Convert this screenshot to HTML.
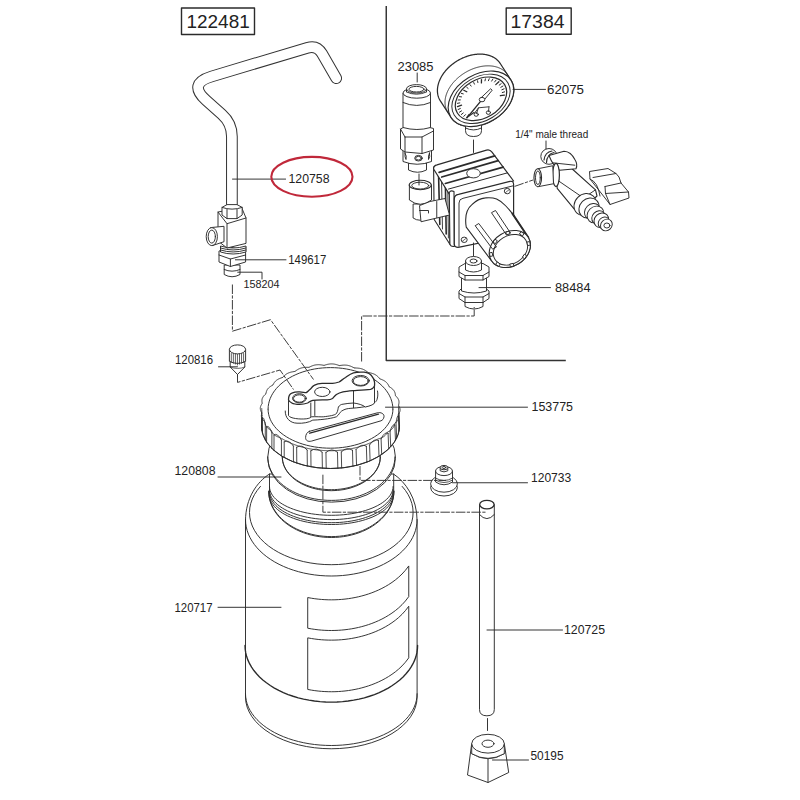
<!DOCTYPE html>
<html><head><meta charset="utf-8"><style>
html,body{margin:0;padding:0;background:#fff;width:800px;height:800px;overflow:hidden}
svg{display:block}
.s{fill:none;stroke:#2b2b2b;stroke-width:0.95;stroke-linejoin:round;stroke-linecap:round}
.w{fill:#fff;stroke:#2b2b2b;stroke-width:0.95;stroke-linejoin:round}
.b{fill:#fff;stroke:#2b2b2b;stroke-width:1.5;stroke-linejoin:round}
.d{fill:none;stroke:#333;stroke-width:0.95;stroke-dasharray:9.5 1.4 3.2 1.4}
.red{fill:none;stroke:#c0283a;stroke-width:2.1}
.t{font-family:"Liberation Sans",sans-serif;fill:#222}
</style></head><body>
<svg width="800" height="800" viewBox="0 0 800 800">
<rect width="800" height="800" fill="#fff"/>
<path d="M245.5,521 C245.5,498 257,482 269.5,474 L393.5,474 C405.5,482 417.1,498 417.1,521 V697 A85.8 51.75 0 0 1 245.5,697 Z" class="w" />
<polyline points="402.14,486.40 405.44,490.44 408.17,494.65 410.31,498.99 411.86,503.44 412.79,507.95 413.10,512.50 412.79,517.05 411.86,521.56 410.31,526.01 408.17,530.35 405.44,534.56 402.14,538.60 398.31,542.44 393.96,546.05 389.14,549.41 383.88,552.49 378.22,555.26 372.20,557.71 365.87,559.81 359.28,561.55 352.47,562.92 345.50,563.91 338.43,564.50 331.30,564.70 324.17,564.50 317.10,563.91 310.13,562.92 303.32,561.55 296.73,559.81 290.40,557.71 284.38,555.26 278.72,552.49 273.46,549.41 268.64,546.05 264.29,542.44 260.46,538.60 257.16,534.56 254.43,530.35 252.29,526.01 250.74,521.56 249.81,517.05 249.50,512.50 249.81,507.95 250.74,503.44 252.29,498.99 254.43,494.65 257.16,490.44 260.46,486.40" class="s" />
<polyline points="417.10,519.50 416.92,523.20 416.37,526.87 415.45,530.52 414.18,534.12 412.55,537.66 410.57,541.12 408.25,544.49 405.60,547.75 402.64,550.89 399.37,553.90 395.81,556.75 391.97,559.45 387.87,561.98 383.53,564.32 378.97,566.48 374.20,568.43 369.25,570.17 364.13,571.70 358.88,573.00 353.51,574.07 348.04,574.91 342.50,575.52 336.91,575.88 331.30,576.00 325.69,575.88 320.10,575.52 314.56,574.91 309.09,574.07 303.72,573.00 298.47,571.70 293.35,570.17 288.40,568.43 283.63,566.48 279.07,564.32 274.73,561.98 270.63,559.45 266.79,556.75 263.23,553.90 259.96,550.89 257.00,547.75 254.35,544.49 252.03,541.12 250.05,537.66 248.42,534.12 247.15,530.52 246.23,526.87 245.68,523.20 245.50,519.50" class="s" />
<polyline points="393.90,491.00 393.77,493.98 393.36,496.95 392.70,499.90 391.77,502.80 390.58,505.66 389.13,508.45 387.44,511.17 385.51,513.80 383.35,516.33 380.96,518.76 378.37,521.07 375.56,523.24 372.58,525.28 369.41,527.18 366.08,528.92 362.60,530.49 358.99,531.90 355.26,533.13 351.42,534.18 347.50,535.05 343.51,535.72 339.47,536.21 335.39,536.50 331.30,536.60 327.21,536.50 323.13,536.21 319.09,535.72 315.10,535.05 311.18,534.18 307.34,533.13 303.61,531.90 300.00,530.49 296.52,528.92 293.19,527.18 290.02,525.28 287.04,523.24 284.23,521.07 281.64,518.76 279.25,516.33 277.09,513.80 275.16,511.17 273.47,508.45 272.02,505.66 270.83,502.80 269.90,499.90 269.24,496.95 268.83,493.98 268.70,491.00" class="s" />
<polyline points="393.90,491.50 393.77,494.51 393.36,497.50 392.70,500.47 391.77,503.41 390.58,506.29 389.13,509.10 387.44,511.85 385.51,514.50 383.35,517.06 380.96,519.50 378.37,521.83 375.56,524.03 372.58,526.08 369.41,527.99 366.08,529.75 362.60,531.34 358.99,532.76 355.26,534.00 351.42,535.06 347.50,535.93 343.51,536.62 339.47,537.11 335.39,537.40 331.30,537.50 327.21,537.40 323.13,537.11 319.09,536.62 315.10,535.93 311.18,535.06 307.34,534.00 303.61,532.76 300.00,531.34 296.52,529.75 293.19,527.99 290.02,526.08 287.04,524.03 284.23,521.83 281.64,519.50 279.25,517.06 277.09,514.50 275.16,511.85 273.47,509.10 272.02,506.29 270.83,503.41 269.90,500.47 269.24,497.50 268.83,494.51 268.70,491.50" class="s" />
<polyline points="393.10,486.50 392.97,488.38 392.57,490.26 391.91,492.12 390.99,493.95 389.82,495.76 388.40,497.52 386.73,499.24 384.82,500.90 382.68,502.50 380.33,504.03 377.76,505.49 375.00,506.86 372.05,508.15 368.92,509.35 365.63,510.45 362.20,511.44 358.63,512.33 354.95,513.11 351.16,513.77 347.30,514.32 343.36,514.75 339.37,515.05 335.34,515.24 331.30,515.30 327.26,515.24 323.23,515.05 319.24,514.75 315.30,514.32 311.44,513.77 307.65,513.11 303.97,512.33 300.40,511.44 296.97,510.45 293.68,509.35 290.55,508.15 287.60,506.86 284.84,505.49 282.27,504.03 279.92,502.50 277.78,500.90 275.87,499.24 274.20,497.52 272.78,495.76 271.61,493.95 270.69,492.12 270.03,490.26 269.63,488.38 269.50,486.50" class="s" />
<polyline points="393.10,490.00 392.97,491.94 392.57,493.86 391.91,495.77 390.99,497.66 389.82,499.51 388.40,501.33 386.73,503.09 384.82,504.80 382.68,506.44 380.33,508.02 377.76,509.52 375.00,510.93 372.05,512.25 368.92,513.48 365.63,514.61 362.20,515.63 358.63,516.55 354.95,517.35 351.16,518.03 347.30,518.59 343.36,519.03 339.37,519.35 335.34,519.54 331.30,519.60 327.26,519.54 323.23,519.35 319.24,519.03 315.30,518.59 311.44,518.03 307.65,517.35 303.97,516.55 300.40,515.63 296.97,514.61 293.68,513.48 290.55,512.25 287.60,510.93 284.84,509.52 282.27,508.02 279.92,506.44 277.78,504.80 275.87,503.09 274.20,501.33 272.78,499.51 271.61,497.66 270.69,495.77 270.03,493.86 269.63,491.94 269.50,490.00" class="s" />
<polyline points="393.10,492.00 392.97,494.01 392.57,496.01 391.91,497.99 390.99,499.95 389.82,501.87 388.40,503.75 386.73,505.58 384.82,507.35 382.68,509.06 380.33,510.69 377.76,512.24 375.00,513.71 372.05,515.08 368.92,516.36 365.63,517.53 362.20,518.59 358.63,519.53 354.95,520.36 351.16,521.07 347.30,521.65 343.36,522.11 339.37,522.44 335.34,522.63 331.30,522.70 327.26,522.63 323.23,522.44 319.24,522.11 315.30,521.65 311.44,521.07 307.65,520.36 303.97,519.53 300.40,518.59 296.97,517.53 293.68,516.36 290.55,515.08 287.60,513.71 284.84,512.24 282.27,510.69 279.92,509.06 277.78,507.35 275.87,505.58 274.20,503.75 272.78,501.87 271.61,499.95 270.69,497.99 270.03,496.01 269.63,494.01 269.50,492.00" class="s" />
<polyline points="393.10,495.00 392.97,496.93 392.57,498.85 391.91,500.76 390.99,502.64 389.82,504.48 388.40,506.29 386.73,508.05 384.82,509.75 382.68,511.39 380.33,512.96 377.76,514.45 375.00,515.86 372.05,517.18 368.92,518.40 365.63,519.53 362.20,520.55 358.63,521.46 354.95,522.25 351.16,522.93 347.30,523.49 343.36,523.93 339.37,524.25 335.34,524.44 331.30,524.50 327.26,524.44 323.23,524.25 319.24,523.93 315.30,523.49 311.44,522.93 307.65,522.25 303.97,521.46 300.40,520.55 296.97,519.53 293.68,518.40 290.55,517.18 287.60,515.86 284.84,514.45 282.27,512.96 279.92,511.39 277.78,509.75 275.87,508.05 274.20,506.29 272.78,504.48 271.61,502.64 270.69,500.76 270.03,498.85 269.63,496.93 269.50,495.00" class="s" />
<line x1="269.50" y1="474.00" x2="269.50" y2="492.00" class="s" />
<line x1="393.70" y1="474.00" x2="393.70" y2="492.00" class="s" />
<polyline points="417.60,645.50 417.42,649.20 416.86,652.89 415.94,656.54 414.66,660.15 413.02,663.69 411.03,667.16 408.70,670.53 406.04,673.80 403.06,676.95 399.77,679.96 396.18,682.82 392.32,685.52 388.20,688.05 383.84,690.40 379.25,692.56 374.45,694.52 369.47,696.26 364.33,697.79 359.04,699.10 353.64,700.17 348.14,701.01 342.56,701.62 336.94,701.98 331.30,702.10 325.66,701.98 320.04,701.62 314.46,701.01 308.96,700.17 303.56,699.10 298.27,697.79 293.13,696.26 288.15,694.52 283.35,692.56 278.76,690.40 274.40,688.05 270.28,685.52 266.42,682.82 262.83,679.96 259.54,676.95 256.56,673.80 253.90,670.53 251.57,667.16 249.58,663.69 247.94,660.15 246.66,656.54 245.74,652.89 245.18,649.20 245.00,645.50" class="s" style="stroke-width:1.35"/>
<polyline points="417.10,693.75 416.92,697.13 416.37,700.50 415.45,703.85 414.18,707.14 412.55,710.38 410.57,713.55 408.25,716.64 405.60,719.62 402.64,722.50 399.37,725.25 395.81,727.87 391.97,730.34 387.87,732.66 383.53,734.81 378.97,736.78 374.20,738.57 369.25,740.16 364.13,741.56 358.88,742.75 353.51,743.74 348.04,744.51 342.50,745.06 336.91,745.39 331.30,745.50 325.69,745.39 320.10,745.06 314.56,744.51 309.09,743.74 303.72,742.75 298.47,741.56 293.35,740.16 288.40,738.57 283.63,736.78 279.07,734.81 274.73,732.66 270.63,730.34 266.79,727.87 263.23,725.25 259.96,722.50 257.00,719.62 254.35,716.64 252.03,713.55 250.05,710.38 248.42,707.14 247.15,703.85 246.23,700.50 245.68,697.13 245.50,693.75" class="s" />
<path d="M308.10,597.62 L311.46,598.23 L314.81,598.73 L318.17,599.14 L321.52,599.45 L324.88,599.67 L328.23,599.80 L331.59,599.84 L334.94,599.79 L338.30,599.64 L341.65,599.41 L345.00,599.08 L348.36,598.65 L351.72,598.13 L355.07,597.51 L358.43,596.79 L361.78,595.96 L365.13,595.02 L368.49,593.96 L371.85,592.78 L375.20,591.46 L378.56,590.00 L381.91,588.39 L385.26,586.60 L388.62,584.61 L391.98,582.41 L395.33,579.95 L398.69,577.17 L402.04,574.01 L405.39,570.34 L408.75,565.94 L408.75,596.60 L405.39,601.00 L402.04,604.67 L398.69,607.83 L395.33,610.61 L391.98,613.07 L388.62,615.27 L385.26,617.26 L381.91,619.05 L378.56,620.66 L375.20,622.12 L371.85,623.44 L368.49,624.62 L365.13,625.68 L361.78,626.62 L358.43,627.45 L355.07,628.17 L351.72,628.79 L348.36,629.31 L345.00,629.74 L341.65,630.07 L338.30,630.30 L334.94,630.45 L331.59,630.50 L328.23,630.46 L324.88,630.33 L321.52,630.11 L318.17,629.80 L314.81,629.39 L311.46,628.89 L308.10,628.28 Z" class="s" />
<path d="M308.10,637.92 L311.46,638.53 L314.81,639.03 L318.17,639.44 L321.52,639.75 L324.88,639.97 L328.23,640.10 L331.59,640.14 L334.94,640.09 L338.30,639.94 L341.65,639.71 L345.00,639.38 L348.36,638.95 L351.72,638.43 L355.07,637.81 L358.43,637.09 L361.78,636.26 L365.13,635.32 L368.49,634.26 L371.85,633.08 L375.20,631.76 L378.56,630.30 L381.91,628.69 L385.26,626.90 L388.62,624.91 L391.98,622.71 L395.33,620.25 L398.69,617.47 L402.04,614.31 L405.39,610.64 L408.75,606.24 L408.75,657.84 L405.39,662.24 L402.04,665.91 L398.69,669.07 L395.33,671.85 L391.98,674.31 L388.62,676.51 L385.26,678.50 L381.91,680.29 L378.56,681.90 L375.20,683.36 L371.85,684.68 L368.49,685.86 L365.13,686.92 L361.78,687.86 L358.43,688.69 L355.07,689.41 L351.72,690.03 L348.36,690.55 L345.00,690.98 L341.65,691.31 L338.30,691.54 L334.94,691.69 L331.59,691.74 L328.23,691.70 L324.88,691.57 L321.52,691.35 L318.17,691.04 L314.81,690.63 L311.46,690.13 L308.10,689.52 Z" class="s" />
<path d="M267.8,456.8 V458.4 A63.6 43.6 0 0 0 395.4,458.4 V456.8 A63.6 43.6 0 0 0 267.8,456.8 Z" class="w" />
<polyline points="394.90,456.80 394.76,459.65 394.36,462.49 393.68,465.31 392.73,468.08 391.52,470.81 390.06,473.48 388.34,476.08 386.38,478.60 384.18,481.02 381.76,483.34 379.12,485.55 376.27,487.63 373.23,489.58 370.02,491.39 366.63,493.05 363.10,494.56 359.43,495.90 355.64,497.08 351.74,498.09 347.76,498.91 343.71,499.56 339.60,500.03 335.46,500.31 331.30,500.40 327.14,500.31 323.00,500.03 318.89,499.56 314.84,498.91 310.86,498.09 306.96,497.08 303.17,495.90 299.50,494.56 295.97,493.05 292.58,491.39 289.37,489.58 286.33,487.63 283.48,485.55 280.84,483.34 278.42,481.02 276.22,478.60 274.26,476.08 272.54,473.48 271.08,470.81 269.87,468.08 268.92,465.31 268.24,462.49 267.84,459.65 267.70,456.80" class="s" />
<polyline points="380.30,457.10 379.88,461.49 378.63,465.80 376.57,469.96 373.74,473.90 370.17,477.55 365.95,480.86 361.13,483.76 355.80,486.20 350.05,488.14 343.98,489.56 337.70,490.41 331.30,490.70 324.90,490.41 318.62,489.56 312.55,488.14 306.80,486.20 301.47,483.76 296.65,480.86 292.43,477.55 288.86,473.90 286.03,469.96 283.97,465.80 282.72,461.49 282.30,457.10 282.72,452.71 283.97,448.40 286.03,444.24 288.86,440.30 292.43,436.65 296.65,433.34 301.47,430.44 306.80,428.00 312.55,426.06 318.62,424.64 324.90,423.79 331.30,423.50 337.70,423.79 343.98,424.64 350.05,426.06 355.80,428.00 361.13,430.44 365.95,433.34 370.17,436.65 373.74,440.30 376.57,444.24 378.63,448.40 379.88,452.71 380.30,457.10" class="s" />
<polyline points="380.30,457.10 380.20,459.23 379.88,461.36 379.36,463.46 378.63,465.54 377.70,467.58 376.57,469.58 375.25,471.52 373.74,473.40 372.04,475.21 370.17,476.95 368.14,478.59 365.95,480.15 363.61,481.61 361.13,482.96 358.52,484.21 355.80,485.33 352.97,486.34 350.05,487.22 347.05,487.97 343.98,488.59 340.86,489.07 337.70,489.42 334.50,489.63 331.30,489.70 328.10,489.63 324.90,489.42 321.74,489.07 318.62,488.59 315.55,487.97 312.55,487.22 309.63,486.34 306.80,485.33 304.08,484.21 301.47,482.96 298.99,481.61 296.65,480.15 294.46,478.59 292.43,476.95 290.56,475.21 288.86,473.40 287.35,471.52 286.03,469.58 284.90,467.58 283.97,465.54 283.24,463.46 282.72,461.36 282.40,459.23 282.30,457.10" class="s" />
<path d="M261.60,409.20 L261.50,426.00 A69.0 42.5 0 0 0 399.50,426.00 L398.80,409.20 A68.6 44.0 0 0 0 261.60,409.20 Z" class="w" />
<polygon points="400.04,409.20 400.06,409.44 400.08,409.67 400.09,409.91 400.08,410.15 400.07,410.39 400.04,410.62 400.01,410.86 399.97,411.10 399.91,411.33 399.85,411.57 399.77,411.80 399.69,412.03 399.60,412.27 399.50,412.50 399.40,412.73 399.28,412.96 399.16,413.19 399.04,413.42 398.90,413.65 398.77,413.87 398.62,414.10 398.48,414.32 398.33,414.55 398.18,414.77 398.23,415.01 398.28,415.25 398.32,415.49 398.36,415.73 398.39,415.97 398.42,416.21 398.44,416.45 398.46,416.69 398.47,416.93 398.47,417.17 398.47,417.41 398.45,417.65 398.43,417.89 398.40,418.13 398.36,418.37 398.31,418.60 398.25,418.84 398.18,419.07 398.10,419.31 398.01,419.54 397.91,419.77 397.80,419.99 397.68,420.22 397.55,420.44 397.41,420.67 397.26,420.89 397.10,421.11 396.93,421.32 396.76,421.54 396.58,421.75 396.39,421.96 396.19,422.17 395.98,422.38 395.77,422.58 395.56,422.79 395.34,422.99 395.11,423.19 394.89,423.39 394.66,423.59 394.43,423.78 394.39,424.02 394.35,424.26 394.31,424.51 394.26,424.75 394.21,424.99 394.15,425.23 394.09,425.46 394.02,425.70 393.95,425.94 393.86,426.18 393.77,426.41 393.68,426.64 393.57,426.87 393.45,427.10 393.33,427.33 393.19,427.55 393.05,427.77 392.90,427.99 392.74,428.21 392.57,428.42 392.38,428.63 392.19,428.84 391.99,429.05 391.78,429.25 391.56,429.45 391.34,429.64 391.10,429.83 390.86,430.02 390.60,430.21 390.34,430.39 390.08,430.57 389.80,430.74 389.53,430.92 389.24,431.09 388.95,431.26 388.66,431.42 388.36,431.58 388.06,431.74 387.75,431.90 387.46,432.06 387.34,432.30 387.22,432.53 387.09,432.76 386.96,432.99 386.83,433.22 386.69,433.45 386.55,433.68 386.40,433.90 386.25,434.13 386.08,434.35 385.91,434.57 385.74,434.78 385.55,434.99 385.36,435.20 385.16,435.41 384.95,435.61 384.73,435.81 384.50,436.01 384.27,436.20 384.02,436.38 383.77,436.56 383.50,436.74 383.23,436.91 382.95,437.08 382.66,437.24 382.37,437.40 382.06,437.56 381.75,437.71 381.43,437.85 381.11,437.99 380.78,438.13 380.44,438.26 380.10,438.39 379.75,438.51 379.40,438.63 379.05,438.75 378.69,438.87 378.16,438.87 377.88,439.03 377.61,439.20 377.33,439.36 377.05,439.52 376.77,439.67 376.48,439.83 376.20,439.99 375.91,440.14 375.62,440.30 375.33,440.45 375.04,440.61 374.75,440.76 374.46,440.91 374.16,441.06 373.87,441.21 373.57,441.35 373.27,441.50 372.97,441.65 372.67,441.79 372.37,441.93 372.06,442.08 371.76,442.22 371.45,442.36 371.14,442.50 370.83,442.64 370.52,442.77 370.21,442.91 369.90,443.05 369.58,443.18 369.27,443.31 368.95,443.45 368.63,443.58 368.31,443.71 367.99,443.83 367.67,443.96 367.35,444.09 367.02,444.21 366.70,444.34 366.37,444.46 366.04,444.58 365.71,444.71 365.38,444.83 365.05,444.94 364.72,445.06 364.39,445.18 364.05,445.29 363.72,445.41 363.38,445.52 363.05,445.63 362.71,445.74 362.37,445.85 362.03,445.96 361.69,446.07 361.34,446.18 361.00,446.28 360.66,446.39 360.31,446.49 359.96,446.59 359.62,446.69 359.27,446.79 358.92,446.89 358.57,446.98 358.22,447.08 357.87,447.18 357.51,447.27 357.16,447.36 356.81,447.45 356.45,447.54 356.10,447.63 355.74,447.72 355.38,447.80 355.02,447.89 354.66,447.97 354.30,448.05 353.94,448.13 353.58,448.21 353.22,448.29 352.86,448.37 352.49,448.45 352.13,448.52 351.76,448.60 351.40,448.67 351.03,448.74 350.67,448.81 350.30,448.88 349.93,448.95 349.56,449.01 349.19,449.08 348.82,449.14 348.45,449.20 348.08,449.27 347.71,449.33 347.33,449.38 346.96,449.44 346.59,449.50 346.21,449.55 345.84,449.61 345.46,449.66 345.09,449.71 344.71,449.76 344.34,449.81 343.96,449.86 343.58,449.90 343.21,449.95 342.83,449.99 342.45,450.03 342.07,450.07 341.69,450.11 341.31,450.15 340.93,450.19 340.55,450.22 340.17,450.26 339.79,450.29 339.41,450.32 339.03,450.36 338.65,450.38 338.26,450.41 337.88,450.44 337.50,450.46 337.12,450.49 336.73,450.51 336.35,450.53 335.97,450.55 335.58,450.57 335.20,450.59 334.81,450.61 334.43,450.62 334.05,450.63 333.66,450.65 333.28,450.66 332.89,450.67 332.51,450.68 332.12,450.68 331.74,450.69 331.35,450.69 330.97,450.70 330.58,450.70 330.20,450.70 329.82,450.70 329.43,450.70 329.05,450.69 328.66,450.69 328.28,450.68 327.89,450.68 327.51,450.67 327.12,450.66 326.74,450.65 326.35,450.63 325.97,450.62 325.59,450.61 325.20,450.59 324.82,450.57 324.43,450.55 324.05,450.53 323.67,450.51 323.28,450.49 322.90,450.46 322.52,450.44 322.14,450.41 321.75,450.38 321.37,450.36 320.99,450.32 320.61,450.29 320.23,450.26 319.85,450.22 319.47,450.19 319.09,450.15 318.71,450.11 318.33,450.07 317.95,450.03 317.57,449.99 317.19,449.95 316.82,449.90 316.44,449.86 316.06,449.81 315.69,449.76 315.31,449.71 314.94,449.66 314.56,449.61 314.19,449.55 313.81,449.50 313.44,449.44 313.07,449.38 312.69,449.33 312.32,449.27 311.95,449.20 311.58,449.14 311.21,449.08 310.84,449.01 310.47,448.95 310.10,448.88 309.73,448.81 309.37,448.74 309.00,448.67 308.64,448.60 308.27,448.52 307.91,448.45 307.54,448.37 307.18,448.29 306.82,448.21 306.46,448.13 306.10,448.05 305.74,447.97 305.38,447.89 305.02,447.80 304.66,447.72 304.30,447.63 303.95,447.54 303.59,447.45 303.24,447.36 302.89,447.27 302.53,447.18 302.18,447.08 301.83,446.98 301.48,446.89 301.13,446.79 300.78,446.69 300.44,446.59 300.09,446.49 299.74,446.39 299.40,446.28 299.06,446.18 298.71,446.07 298.37,445.96 298.03,445.85 297.69,445.74 297.35,445.63 297.02,445.52 296.68,445.41 296.35,445.29 296.01,445.18 295.68,445.06 295.35,444.94 295.02,444.83 294.69,444.71 294.36,444.58 294.03,444.46 293.70,444.34 293.38,444.21 293.05,444.09 292.73,443.96 292.41,443.83 292.09,443.71 291.77,443.58 291.45,443.45 291.13,443.31 290.82,443.18 290.50,443.05 290.19,442.91 289.88,442.77 289.57,442.64 289.26,442.50 288.95,442.36 288.64,442.22 288.34,442.08 288.03,441.93 287.73,441.79 287.43,441.65 287.13,441.50 286.83,441.35 286.53,441.21 286.24,441.06 285.94,440.91 285.65,440.76 285.36,440.61 285.07,440.45 284.78,440.30 284.49,440.14 284.20,439.99 283.92,439.83 283.63,439.67 283.35,439.52 283.07,439.36 282.79,439.20 282.52,439.03 282.24,438.87 281.54,438.97 281.35,438.75 281.16,438.53 280.98,438.32 280.80,438.10 280.61,437.88 280.26,437.76 279.91,437.64 279.56,437.52 279.21,437.40 278.87,437.27 278.53,437.14 278.19,437.00 277.86,436.86 277.54,436.72 277.22,436.58 276.90,436.43 276.60,436.27 276.30,436.11 276.01,435.95 275.73,435.78 275.45,435.61 275.19,435.44 274.93,435.26 274.68,435.07 274.44,434.88 274.21,434.69 273.99,434.49 273.77,434.29 273.57,434.09 273.38,433.88 273.19,433.67 273.01,433.46 272.84,433.24 272.68,433.02 272.53,432.80 272.38,432.57 272.24,432.34 272.11,432.12 271.98,431.89 271.86,431.65 271.74,431.42 271.63,431.19 271.52,430.95 271.42,430.72 271.31,430.49 271.01,430.32 270.72,430.15 270.44,429.98 270.15,429.81 269.87,429.64 269.60,429.46 269.33,429.28 269.06,429.10 268.80,428.92 268.55,428.73 268.31,428.54 268.07,428.35 267.84,428.16 267.62,427.96 267.41,427.76 267.21,427.55 267.01,427.35 266.83,427.14 266.65,426.92 266.49,426.71 266.33,426.49 266.19,426.27 266.05,426.05 265.92,425.82 265.81,425.59 265.70,425.36 265.60,425.13 265.51,424.90 265.43,424.66 265.36,424.43 265.29,424.19 265.23,423.95 265.18,423.71 265.14,423.47 265.10,423.23 265.06,422.99 265.03,422.75 265.00,422.51 264.98,422.26 264.95,422.03 264.74,421.82 264.52,421.62 264.31,421.41 264.10,421.21 263.89,421.00 263.70,420.79 263.50,420.58 263.31,420.37 263.13,420.15 262.96,419.94 262.79,419.72 262.64,419.50 262.49,419.28 262.35,419.05 262.22,418.83 262.09,418.60 261.98,418.38 261.88,418.15 261.79,417.92 261.70,417.68 261.63,417.45 261.57,417.22 261.52,416.98 261.47,416.74 261.44,416.51 261.42,416.27 261.41,416.03 261.40,415.79 261.40,415.55 261.42,415.31 261.44,415.07 261.46,414.83 261.50,414.59 261.54,414.35 261.58,414.11 261.63,413.87 261.69,413.63 261.75,413.40 261.81,413.16 261.87,412.92 261.74,412.69 261.60,412.47 261.47,412.24 261.35,412.01 261.23,411.78 261.11,411.55 261.00,411.32 260.90,411.08 260.81,410.85 260.72,410.62 260.64,410.38 260.56,410.15 260.50,409.91 260.44,409.67 260.40,409.44 260.36,409.20 260.34,408.95 260.32,408.70 260.31,408.45 260.32,408.19 260.33,407.94 260.36,407.69 260.39,407.44 260.43,407.19 260.49,406.94 260.55,406.69 260.63,406.44 260.71,406.19 260.80,405.95 260.90,405.70 261.00,405.46 261.12,405.21 261.24,404.97 261.36,404.73 261.50,404.49 261.63,404.24 261.78,404.01 261.92,403.77 262.07,403.53 262.22,403.29 262.17,403.04 262.12,402.79 262.08,402.53 262.04,402.28 262.01,402.02 261.98,401.77 261.96,401.51 261.94,401.25 261.93,401.00 261.93,400.74 261.93,400.49 261.95,400.24 261.97,399.98 262.00,399.73 262.04,399.48 262.10,399.23 262.16,398.98 262.23,398.73 262.31,398.49 262.40,398.24 262.50,398.00 262.61,397.76 262.73,397.52 262.86,397.28 263.00,397.04 263.14,396.81 263.30,396.58 263.47,396.35 263.64,396.12 263.83,395.89 264.02,395.67 264.21,395.45 264.42,395.23 264.63,395.01 264.84,394.79 265.06,394.58 265.29,394.37 265.51,394.16 265.75,393.95 265.97,393.74 266.01,393.48 266.05,393.23 266.09,392.97 266.14,392.72 266.19,392.46 266.25,392.21 266.31,391.96 266.38,391.70 266.46,391.45 266.54,391.20 266.63,390.95 266.73,390.71 266.84,390.46 266.95,390.22 267.08,389.98 267.21,389.74 267.35,389.51 267.51,389.28 267.67,389.05 267.84,388.82 268.02,388.60 268.21,388.38 268.41,388.16 268.62,387.95 268.84,387.74 269.07,387.53 269.31,387.33 269.55,387.13 269.80,386.93 270.06,386.74 270.33,386.55 270.60,386.36 270.88,386.18 271.16,386.00 271.45,385.82 271.75,385.64 272.04,385.47 272.34,385.30 272.65,385.13 272.94,384.96 273.06,384.71 273.19,384.47 273.31,384.22 273.44,383.98 273.57,383.73 273.71,383.49 273.86,383.25 274.01,383.01 274.16,382.78 274.32,382.54 274.50,382.31 274.67,382.08 274.86,381.86 275.05,381.64 275.25,381.42 275.46,381.20 275.68,380.99 275.91,380.79 276.15,380.58 276.39,380.39 276.65,380.20 276.91,380.01 277.18,379.82 277.46,379.65 277.75,379.47 278.05,379.31 278.35,379.14 278.66,378.98 278.98,378.83 279.30,378.68 279.63,378.54 279.97,378.40 280.31,378.26 280.65,378.13 281.00,378.00 281.36,377.87 281.71,377.75 282.07,377.63 282.43,377.51 282.79,377.39 282.98,377.17 283.18,376.94 283.38,376.71 283.59,376.49 283.79,376.27 284.01,376.05 284.22,375.83 284.45,375.61 284.68,375.40 284.91,375.19 285.15,374.98 285.40,374.78 285.66,374.58 285.92,374.39 286.19,374.21 286.46,374.02 286.75,373.85 287.04,373.68 287.34,373.51 287.65,373.35 287.96,373.20 288.29,373.06 288.62,372.92 288.95,372.79 289.30,372.66 289.65,372.54 290.00,372.43 290.36,372.32 290.73,372.22 291.10,372.12 291.48,372.03 291.86,371.95 292.25,371.87 292.64,371.80 293.03,371.73 293.42,371.66 293.82,371.60 294.22,371.54 294.62,371.48 295.01,371.43 295.27,371.22 295.54,371.02 295.81,370.82 296.08,370.63 296.35,370.43 296.63,370.24 296.91,370.05 297.20,369.87 297.49,369.68 297.79,369.51 298.09,369.34 298.40,369.17 298.71,369.01 299.03,368.86 299.36,368.71 299.69,368.57 300.03,368.43 300.37,368.31 300.72,368.19 301.08,368.08 301.44,367.97 301.81,367.88 302.18,367.79 302.55,367.71 302.93,367.64 303.32,367.58 303.71,367.52 304.10,367.47 304.50,367.43 304.90,367.40 305.31,367.37 305.71,367.35 306.12,367.33 306.53,367.32 306.94,367.32 307.35,367.32 307.77,367.32 308.18,367.33 308.59,367.34 309.00,367.35 309.32,367.18 309.64,367.02 309.97,366.85 310.30,366.69 310.63,366.53 310.97,366.38 311.30,366.23 311.65,366.08 311.99,365.94 312.34,365.80 312.70,365.67 313.05,365.55 313.41,365.44 313.78,365.33 314.15,365.23 314.52,365.14 314.90,365.05 315.28,364.98 315.66,364.91 316.04,364.86 316.43,364.81 316.82,364.77 317.22,364.74 317.61,364.72 318.01,364.71 318.41,364.70 318.81,364.71 319.22,364.72 319.62,364.74 320.02,364.77 320.43,364.81 320.83,364.85 321.24,364.90 321.64,364.96 322.05,365.02 322.45,365.09 322.85,365.15 323.25,365.23 323.65,365.30 324.05,365.37 324.42,365.25 324.79,365.13 325.17,365.01 325.54,364.90 325.92,364.78 326.30,364.68 326.68,364.58 327.07,364.48 327.45,364.39 327.84,364.30 328.23,364.23 328.62,364.16 329.02,364.10 329.41,364.04 329.80,364.00 330.20,363.96 330.60,363.94 330.99,363.92 331.39,363.91 331.78,363.91 332.18,363.92 332.58,363.94 332.97,363.97 333.36,364.01 333.76,364.06 334.15,364.12 334.54,364.18 334.92,364.26 335.31,364.34 335.69,364.43 336.08,364.52 336.45,364.62 336.83,364.73 337.21,364.85 337.58,364.96 337.95,365.09 338.32,365.21 338.68,365.34 339.05,365.47 339.41,365.59 339.81,365.53 340.22,365.46 340.62,365.40 341.03,365.35 341.44,365.30 341.84,365.25 342.25,365.20 342.66,365.17 343.07,365.14 343.47,365.11 343.88,365.10 344.28,365.09 344.68,365.09 345.08,365.10 345.48,365.11 345.88,365.14 346.27,365.17 346.66,365.21 347.05,365.26 347.44,365.32 347.82,365.39 348.20,365.47 348.57,365.56 348.94,365.65 349.30,365.75 349.66,365.86 350.02,365.98 350.37,366.11 350.72,366.24 351.07,366.38 351.41,366.52 351.74,366.68 352.07,366.83 352.40,366.99 352.73,367.15 353.05,367.32 353.37,367.49 353.68,367.66 353.99,367.83 354.31,368.00 354.72,368.00 355.13,368.00 355.54,368.01 355.95,368.02 356.37,368.03 356.77,368.05 357.18,368.07 357.59,368.10 357.99,368.14 358.39,368.18 358.79,368.22 359.18,368.28 359.57,368.34 359.95,368.41 360.33,368.48 360.71,368.57 361.08,368.66 361.44,368.76 361.80,368.86 362.15,368.98 362.50,369.10 362.84,369.23 363.17,369.36 363.50,369.51 363.82,369.66 364.14,369.81 364.45,369.98 364.75,370.15 365.05,370.32 365.34,370.50 365.62,370.68 365.90,370.87 366.18,371.06 366.45,371.26 366.71,371.46 366.98,371.66 367.23,371.86 367.49,372.07 367.74,372.27 367.99,372.48 368.39,372.54 368.78,372.61 369.17,372.68 369.56,372.76 369.95,372.83 370.34,372.92 370.72,373.00 371.10,373.10 371.47,373.19 371.84,373.29 372.20,373.40 372.56,373.51 372.92,373.63 373.26,373.76 373.60,373.89 373.94,374.02 374.26,374.17 374.58,374.32 374.89,374.47 375.19,374.63 375.49,374.80 375.78,374.97 376.06,375.15 376.33,375.33 376.59,375.52 376.85,375.72 377.10,375.92 377.34,376.12 377.58,376.33 377.80,376.54 378.02,376.75 378.24,376.97 378.45,377.19 378.65,377.42 378.85,377.64 379.04,377.87 379.23,378.10 379.42,378.33 379.60,378.56 379.79,378.79 380.14,378.92 380.49,379.05 380.84,379.18 381.19,379.31 381.53,379.45 381.87,379.59 382.20,379.73 382.53,379.88 382.85,380.03 383.17,380.18 383.48,380.34 383.79,380.50 384.09,380.67 384.38,380.84 384.66,381.02 384.94,381.20 385.20,381.39 385.46,381.58 385.71,381.78 385.95,381.97 386.18,382.18 386.40,382.39 386.61,382.60 386.82,382.82 387.01,383.04 387.20,383.26 387.38,383.49 387.55,383.72 387.71,383.95 387.86,384.19 388.01,384.42 388.15,384.66 388.29,384.91 388.41,385.15 388.54,385.40 388.65,385.64 388.77,385.89 388.88,386.14 388.98,386.39 389.09,386.63 389.39,386.81 389.68,386.98 389.96,387.16 390.25,387.35 390.53,387.53 390.80,387.72 391.07,387.91 391.33,388.10 391.59,388.29 391.84,388.49 392.09,388.69 392.33,388.90 392.55,389.10 392.77,389.31 392.99,389.53 393.19,389.74 393.38,389.96 393.57,390.19 393.74,390.41 393.91,390.64 394.06,390.87 394.21,391.10 394.34,391.34 394.47,391.58 394.59,391.82 394.70,392.07 394.79,392.31 394.88,392.56 394.97,392.81 395.04,393.06 395.11,393.31 395.17,393.56 395.22,393.82 395.26,394.07 395.30,394.33 395.34,394.58 395.37,394.84 395.40,395.09 395.42,395.35 395.45,395.60 395.66,395.82 395.88,396.03 396.09,396.25 396.30,396.47 396.50,396.69 396.70,396.91 396.90,397.14 397.08,397.36 397.26,397.59 397.44,397.82 397.60,398.05 397.76,398.28 397.91,398.52 398.05,398.75 398.18,398.99 398.30,399.23 398.42,399.47 398.52,399.71 398.61,399.96 398.69,400.20 398.77,400.45 398.83,400.70 398.88,400.95 398.92,401.20 398.96,401.45 398.98,401.70 398.99,401.96 399.00,402.21 399.00,402.46 398.98,402.72 398.96,402.97 398.94,403.23 398.90,403.48 398.86,403.74 398.82,403.99 398.77,404.24 398.71,404.50 398.65,404.75 398.59,405.00 398.53,405.26 398.66,405.50 398.80,405.74 398.93,405.98 399.05,406.22 399.17,406.47 399.29,406.71 399.40,406.96 399.50,407.20 399.59,407.45 399.68,407.70 399.76,407.95 399.84,408.20 399.90,408.45 399.96,408.70 400.00,408.95 400.04,409.20" class="w"/>
<line x1="398.67" y1="413.57" x2="399.37" y2="428.63" class="s" style="stroke-width:0.85"/>
<line x1="398.32" y1="415.89" x2="399.02" y2="431.00" class="s" style="stroke-width:0.85"/>
<line x1="396.01" y1="422.72" x2="396.69" y2="438.01" class="s" style="stroke-width:0.85"/>
<line x1="394.82" y1="424.93" x2="395.49" y2="440.27" class="s" style="stroke-width:0.85"/>
<line x1="390.04" y1="431.29" x2="390.69" y2="446.78" class="s" style="stroke-width:0.85"/>
<line x1="388.07" y1="433.28" x2="388.71" y2="448.82" class="s" style="stroke-width:0.85"/>
<line x1="381.08" y1="438.84" x2="381.68" y2="454.51" class="s" style="stroke-width:0.85"/>
<line x1="378.43" y1="440.51" x2="379.01" y2="456.23" class="s" style="stroke-width:0.85"/>
<line x1="369.57" y1="444.99" x2="370.10" y2="460.81" class="s" style="stroke-width:0.85"/>
<line x1="366.36" y1="446.27" x2="366.87" y2="462.12" class="s" style="stroke-width:0.85"/>
<line x1="356.08" y1="449.43" x2="356.53" y2="465.36" class="s" style="stroke-width:0.85"/>
<line x1="352.48" y1="450.25" x2="352.91" y2="466.20" class="s" style="stroke-width:0.85"/>
<line x1="341.29" y1="451.95" x2="341.66" y2="467.94" class="s" style="stroke-width:0.85"/>
<line x1="337.49" y1="452.27" x2="337.83" y2="468.26" class="s" style="stroke-width:0.85"/>
<line x1="325.95" y1="452.42" x2="326.22" y2="468.42" class="s" style="stroke-width:0.85"/>
<line x1="322.12" y1="452.21" x2="322.38" y2="468.20" class="s" style="stroke-width:0.85"/>
<line x1="310.82" y1="450.81" x2="311.01" y2="466.77" class="s" style="stroke-width:0.85"/>
<line x1="307.17" y1="450.09" x2="307.33" y2="466.03" class="s" style="stroke-width:0.85"/>
<line x1="296.66" y1="447.20" x2="296.77" y2="463.08" class="s" style="stroke-width:0.85"/>
<line x1="293.37" y1="446.01" x2="293.45" y2="461.85" class="s" style="stroke-width:0.85"/>
<line x1="284.19" y1="441.78" x2="284.22" y2="457.52" class="s" style="stroke-width:0.85"/>
<line x1="281.41" y1="440.17" x2="281.43" y2="455.88" class="s" style="stroke-width:0.85"/>
<line x1="274.02" y1="434.81" x2="273.99" y2="450.39" class="s" style="stroke-width:0.85"/>
<line x1="271.90" y1="432.88" x2="271.86" y2="448.40" class="s" style="stroke-width:0.85"/>
<line x1="266.67" y1="426.65" x2="266.60" y2="442.03" class="s" style="stroke-width:0.85"/>
<line x1="265.32" y1="424.48" x2="265.24" y2="439.80" class="s" style="stroke-width:0.85"/>
<line x1="262.50" y1="417.71" x2="262.41" y2="432.87" class="s" style="stroke-width:0.85"/>
<line x1="261.99" y1="415.41" x2="261.89" y2="430.51" class="s" style="stroke-width:0.85"/>
<path d="M398.32,415.89 Q397.40,414.13 396.01,422.72" class="s" style="stroke-width:0.85"/>
<path d="M394.82,424.93 Q392.65,422.97 390.04,431.29" class="s" style="stroke-width:0.85"/>
<path d="M388.07,433.28 Q384.77,430.95 381.08,438.84" class="s" style="stroke-width:0.85"/>
<path d="M378.43,440.51 Q374.15,437.66 369.57,444.99" class="s" style="stroke-width:0.85"/>
<path d="M366.36,446.27 Q361.33,442.78 356.08,449.43" class="s" style="stroke-width:0.85"/>
<path d="M352.48,450.25 Q346.95,446.04 341.29,451.95" class="s" style="stroke-width:0.85"/>
<path d="M337.49,452.27 Q331.72,447.29 325.95,452.42" class="s" style="stroke-width:0.85"/>
<path d="M322.12,452.21 Q316.42,446.45 310.82,450.81" class="s" style="stroke-width:0.85"/>
<path d="M307.17,450.09 Q301.81,443.58 296.66,447.20" class="s" style="stroke-width:0.85"/>
<path d="M293.37,446.01 Q288.63,438.81 284.19,441.78" class="s" style="stroke-width:0.85"/>
<path d="M281.41,440.17 Q277.53,432.39 274.02,434.81" class="s" style="stroke-width:0.85"/>
<path d="M271.90,432.88 Q269.07,424.63 266.67,426.65" class="s" style="stroke-width:0.85"/>
<path d="M265.32,424.48 Q263.68,415.93 262.50,417.71" class="s" style="stroke-width:0.85"/>
<path d="M261.99,415.41 Q261.62,406.72 261.73,408.27" class="s" style="stroke-width:0.85"/>
<path d="M398.41,406.33 Q398.78,404.82 398.67,413.57" class="s" style="stroke-width:0.85"/>
<polyline points="399.50,426.00 399.35,428.78 398.91,431.55 398.17,434.29 397.15,437.00 395.84,439.66 394.25,442.26 392.38,444.80 390.26,447.25 387.87,449.61 385.24,451.87 382.38,454.02 379.29,456.05 375.99,457.95 372.50,459.72 368.83,461.34 365.00,462.81 361.02,464.12 356.91,465.26 352.68,466.24 348.36,467.05 343.96,467.68 339.51,468.14 335.01,468.41 330.50,468.50 325.99,468.41 321.49,468.14 317.04,467.68 312.64,467.05 308.32,466.24 304.09,465.26 299.98,464.12 296.00,462.81 292.17,461.34 288.50,459.72 285.01,457.95 281.71,456.05 278.62,454.02 275.76,451.87 273.13,449.61 270.74,447.25 268.62,444.80 266.75,442.26 265.16,439.66 263.85,437.00 262.83,434.29 262.09,431.55 261.65,428.78 261.50,426.00" class="s" />
<polyline points="268.10,409.20 268.23,406.48 268.63,403.77 269.30,401.08 270.23,398.43 271.41,395.83 272.85,393.28 274.54,390.80 276.46,388.40 278.62,386.09 280.99,383.88 283.59,381.77 286.38,379.78 289.36,377.92 292.51,376.20 295.83,374.61 299.30,373.17 302.90,371.89 306.62,370.77 310.44,369.81 314.35,369.02 318.33,368.40 322.36,367.96 326.42,367.69 330.50,367.60 334.58,367.69 338.64,367.96 342.67,368.40 346.65,369.02 350.56,369.81 354.38,370.77 358.10,371.89 361.70,373.17 365.17,374.61 368.49,376.20 371.64,377.92 374.62,379.78 377.41,381.77 380.01,383.88 382.38,386.09 384.54,388.40 386.46,390.80 388.15,393.28 389.59,395.83 390.77,398.43 391.70,401.08 392.37,403.77 392.77,406.48 392.90,409.20" class="s" />
<polyline points="392.90,409.20 392.77,411.75 392.37,414.29 391.70,416.81 390.77,419.29 389.59,421.74 388.15,424.12 386.46,426.45 384.54,428.70 382.38,430.87 380.01,432.94 377.41,434.91 374.62,436.78 371.64,438.52 368.49,440.14 365.17,441.63 361.70,442.97 358.10,444.18 354.38,445.23 350.56,446.13 346.65,446.87 342.67,447.45 338.64,447.87 334.58,448.12 330.50,448.20 326.42,448.12 322.36,447.87 318.33,447.45 314.35,446.87 310.44,446.13 306.62,445.23 302.90,444.18 299.30,442.97 295.83,441.63 292.51,440.14 289.36,438.52 286.38,436.78 283.59,434.91 280.99,432.94 278.62,430.87 276.46,428.70 274.54,426.45 272.85,424.12 271.41,421.74 270.23,419.29 269.30,416.81 268.63,414.29 268.23,411.75 268.10,409.20" class="s" />
<path d="M285.25,411 C285,418 290,423 297,423.2 C303,423.6 309,422.5 312.8,420.1 C318,420 330,419 336.4,416.8 C339,415 339.5,412.5 341.7,411 C345,409 347,408.6 350.9,408.3 C358,407.8 365,407 369.25,405.7 C374,404 377,401 377.1,399.1 C378,396 378,394 377.5,391" class="s" />
<path d="M288.5,399.8 V415.5 C290,418.5 300,419.5 306.25,418.8 C309,418.5 311,417.5 311.5,416.8 C316,416.5 321,417 323.3,416.8 C330,416 334,415.5 336.4,413.6 C338,411 338,408.5 338.4,407 C339.5,405.5 340.5,404.8 341.7,404.4 C346,403.5 350,403.2 353.5,403 C358,403.5 363,405 365.3,407 C370,406 373.5,404.5 374.5,403 V382 Z" class="w" />
<line x1="310.80" y1="403.00" x2="310.80" y2="416.80" class="s" />
<line x1="314.80" y1="400.50" x2="314.80" y2="415.50" class="s" />
<line x1="353.50" y1="390.60" x2="353.50" y2="407.70" class="s" />
<path d="M288.5,399.8 C288.5,396 289.5,394 291.8,393.2 C295,391.8 297,391.6 299.7,391.9 C303,392.2 305,392.6 306.25,392.6 C308,391.5 309,390 310.2,389.3 C312,387 313,385.8 314.1,385.3 C317,383.8 320,383.4 322,383.4 C326,383.4 330,383.4 332.5,383.4 C335,383.2 337,382.6 339,382 C341,380.8 343,379 345.6,377.5 C348,375.8 350,374 353.5,372.9 C357,372 361,372 364,372.2 C368,372.8 370.5,374 371.9,376.2 C373.5,378 374.5,380 374.5,382 C374.8,384 374.5,385 374.5,386 C373.5,388 372,389 370.6,389.3 C365,390 358,390.3 353.5,390.6 C349,391 345.5,391.3 343,391.9 C340,392.6 338,393.5 336.4,394.5 C334.5,396 333.5,397.5 332.5,398.5 C331,399.5 329,399.8 327.25,399.8 C322,400 317,400 312.8,400.4 C310,401 309,402.2 307.6,403 C305,404 302,404.4 299.7,404.4 C296,404.4 293.5,404 291.8,403 C290,402 288.6,401 288.5,399.8 Z" class="w" style="stroke-width:1.3"/>
<ellipse cx="299.40" cy="398.30" rx="6.90" ry="4.60" class="s" />
<ellipse cx="299.40" cy="398.50" rx="5.90" ry="3.70" class="s" />
<ellipse cx="322.30" cy="391.90" rx="7.70" ry="4.60" class="s" />
<ellipse cx="360.70" cy="380.75" rx="8.60" ry="5.30" class="s" />
<ellipse cx="360.70" cy="381.00" rx="7.50" ry="4.40" class="s" />
<path d="M309.5,431.3 L377.1,412.9 C381,411.8 384.5,414 384,416.8 C383.6,419 382.5,420.3 381,420.8 L311.5,441.1 C308,442 305.5,440.5 305.6,437.5 C305.7,434.5 307,432 309.5,431.3 Z" class="s" />
<path d="M309.8,433.2 L378.5,414.2" class="s" style="stroke-width:1.4"/>
<ellipse cx="444.00" cy="487.60" rx="13.40" ry="8.40" class="w" />
<ellipse cx="444.00" cy="483.80" rx="13.40" ry="8.40" class="w" />
<path d="M435.6,471 V482 Q444,487.5 452.5,482 V471 Z" class="w" />
<path d="M435.8,478.2 Q444,483.0 452.3,478.2" class="s" style="stroke-width:0.8"/>
<path d="M435.8,480.2 Q444,485.0 452.3,480.2" class="s" style="stroke-width:0.8"/>
<ellipse cx="444.00" cy="471.00" rx="8.45" ry="4.60" class="w" />
<path d="M440.2,470.8 V467.6 Q444,465.4 447.8,467.6 V470.8 Q444,473 440.2,470.8 Z" class="w" />
<ellipse cx="444.00" cy="467.60" rx="3.80" ry="2.20" class="w" />
<ellipse cx="444.00" cy="467.50" rx="1.80" ry="1.00" class="s" />
<path d="M479.5,504.4 V709.5 Q479.5,715.8 486.9,715.8 Q494.3,715.8 494.3,709.5 V504.4 Z" class="w" />
<ellipse cx="486.90" cy="504.60" rx="7.20" ry="4.30" class="w" style="stroke-width:1.3"/>
<path d="M479.5,514.5 Q486.9,523 494.3,514.5" class="s" />
<path d="M471.7,743.7 L467.5,775 L488,782.5 L508.7,772.5 L504.3,743.7 Z" class="w" />
<path d="M471.7,753.7 Q488,764 504.3,753.7" class="s" />
<line x1="488.00" y1="758.80" x2="488.00" y2="782.50" class="s" />
<path d="M471.7,743.7 V753.7 Q488,763 504.3,753.7 V743.7" class="w" />
<ellipse cx="488.00" cy="743.70" rx="16.30" ry="9.40" class="w" />
<ellipse cx="488.00" cy="743.70" rx="6.00" ry="3.60" class="s" />
<path d="M231.9,218 L231.9,136.5 Q231.9,123.3 221.9,114.4 L206.2,100.4 Q187.6,83.7 211.6,76.5 L307.3,47.8 Q316.9,44.9 322,53.5 L336.2,78.2" fill="none" stroke="#333" stroke-width="11.7" stroke-linecap="round" stroke-linejoin="round"/>
<path d="M231.9,218 L231.9,136.5 Q231.9,123.3 221.9,114.4 L206.2,100.4 Q187.6,83.7 211.6,76.5 L307.3,47.8 Q316.9,44.9 322,53.5 L336.2,78.2" fill="none" stroke="#fff" stroke-width="9.7" stroke-linecap="round" stroke-linejoin="round"/>
<path d="M224.2,265 V274.5 Q232,279 240,274.5 V265 Z" class="w" />
<path d="M224.2,269.5 Q232,273 240,269.5" class="s" />
<path d="M219,251 V262 L230.4,266.5 L245.6,262 V251 L232,247.5 Z" class="w" />
<path d="M219,255 L230.4,259 L245.6,255 M230.4,259 V266.5" class="s" />
<path d="M220.5,246 V252 Q233,256 246,252 V246 Q233,250 220.5,246 Z" class="w" />
<path d="M220.5,248 Q233,252 246,248" class="s" />
<path d="M220.5,250 Q233,254 246,250" class="s" />
<path d="M218,212 L241.6,207.5 L246,218 V243.4 L227,248 L218,241 Z" class="w" />
<path d="M218,212 L227,223.7 L246,218 M227,223.7 V248" class="s" />
<path d="M222,207.4 L227,204.6 L237,204.6 L242.2,207.4 V215 L237,218.6 L227,218.6 L222,215 Z" class="w" />
<path d="M222,207.4 Q232,211 242.2,207.4 M227,209.5 V218.6 M237,209.5 V218.6" class="s" />
<path d="M224,226.3 L210.5,227.6 L212.4,245.6 L224,241.7 Z" class="w" />
<ellipse cx="211.80" cy="236.60" rx="5.60" ry="9.00" class="w" />
<ellipse cx="211.80" cy="236.60" rx="3.60" ry="6.50" class="s" />
<path d="M230.2,361 V367 L237.5,374.5 L244.8,367 V361 Z" class="w" />
<path d="M230.2,367 Q237.5,370 244.8,367" class="s" style="stroke-width:0.7"/>
<path d="M237.5,374.5 V377" class="s" />
<path d="M229.4,349.4 V361.3 Q237.5,365.5 245.6,361.3 V349.4 Z" class="w" />
<line x1="231.30" y1="353.50" x2="231.30" y2="362.29" class="s" style="stroke-width:0.75"/>
<line x1="233.35" y1="353.50" x2="233.35" y2="363.18" class="s" style="stroke-width:0.75"/>
<line x1="235.40" y1="353.50" x2="235.40" y2="364.08" class="s" style="stroke-width:0.75"/>
<line x1="237.45" y1="353.50" x2="237.45" y2="364.98" class="s" style="stroke-width:0.75"/>
<line x1="239.50" y1="353.50" x2="239.50" y2="364.12" class="s" style="stroke-width:0.75"/>
<line x1="241.55" y1="353.50" x2="241.55" y2="363.23" class="s" style="stroke-width:0.75"/>
<line x1="243.60" y1="353.50" x2="243.60" y2="362.33" class="s" style="stroke-width:0.75"/>
<ellipse cx="237.50" cy="349.40" rx="8.10" ry="4.50" class="w" />
<path d="M440.04,100.38 L439.82,100.00 L439.61,99.62 L439.41,99.23 L439.22,98.84 L439.03,98.44 L438.86,98.04 L438.70,97.63 L438.54,97.22 L438.40,96.80 L438.27,96.38 L438.14,95.96 L438.03,95.53 L437.92,95.09 L437.83,94.66 L437.74,94.22 L437.67,93.77 L437.60,93.32 L437.54,92.87 L437.50,92.41 L437.46,91.96 L437.44,91.49 L437.42,91.03 L437.42,90.56 L437.42,90.09 L437.44,89.62 L437.46,89.15 L437.49,88.67 L437.54,88.19 L437.59,87.71 L437.66,87.23 L437.73,86.75 L437.82,86.26 L437.91,85.78 L438.01,85.29 L438.13,84.80 L438.25,84.31 L438.39,83.82 L438.53,83.33 L438.68,82.84 L438.84,82.35 L439.02,81.86 L439.20,81.37 L439.39,80.88 L439.59,80.39 L439.80,79.90 L440.02,79.41 L440.25,78.93 L440.48,78.44 L440.73,77.95 L440.99,77.47 L441.25,76.99 L441.52,76.51 L441.81,76.03 L442.10,75.55 L442.40,75.07 L442.71,74.60 L443.02,74.13 L443.35,73.66 L443.68,73.20 L444.02,72.73 L444.37,72.27 L444.73,71.81 L445.09,71.36 L445.46,70.91 L445.84,70.46 L446.23,70.02 L446.62,69.58 L447.03,69.14 L447.44,68.71 L447.85,68.28 L448.27,67.86 L448.70,67.44 L449.14,67.02 L449.58,66.61 L450.03,66.21 L450.49,65.81 L450.95,65.41 L451.41,65.02 L451.89,64.63 L452.37,64.25 L452.85,63.88 L453.34,63.51 L453.83,63.15 L454.33,62.79 L454.84,62.44 L455.34,62.09 L455.86,61.75 L456.38,61.42 L456.90,61.09 L457.42,60.77 L457.95,60.46 L458.49,60.15 L459.03,59.85 L459.57,59.55 L460.11,59.27 L460.66,58.99 L461.21,58.71 L461.76,58.45 L462.32,58.19 L462.87,57.94 L463.43,57.70 L464.00,57.46 L464.56,57.23 L465.13,57.01 L465.69,56.80 L466.26,56.59 L466.83,56.39 L467.40,56.20 L467.98,56.02 L468.55,55.84 L469.12,55.68 L469.70,55.52 L470.27,55.37 L470.84,55.23 L471.42,55.10 L471.99,54.97 L472.56,54.85 L473.14,54.74 L473.71,54.64 L474.28,54.55 L474.85,54.47 L475.41,54.39 L475.98,54.33 L476.55,54.27 L477.11,54.22 L477.67,54.18 L478.23,54.14 L478.78,54.12 L479.34,54.10 L479.89,54.10 L480.43,54.10 L480.98,54.11 L481.52,54.13 L482.06,54.16 L482.59,54.19 L483.12,54.24 L483.65,54.29 L484.17,54.35 L484.69,54.42 L485.20,54.50 L485.71,54.59 L486.22,54.68 L486.72,54.78 L487.21,54.90 L487.70,55.02 L488.18,55.14 L488.66,55.28 L489.14,55.43 L489.60,55.58 L490.07,55.74 L490.52,55.91 L490.97,56.09 L491.41,56.27 L491.85,56.47 L492.28,56.67 L492.70,56.87 L493.12,57.09 L493.53,57.32 L493.93,57.55 L494.33,57.79 L494.72,58.03 L495.10,58.29 L495.47,58.55 L495.84,58.82 L496.19,59.09 L496.54,59.38 L496.89,59.66 L497.22,59.96 L497.55,60.26 L497.86,60.57 L498.17,60.89 L498.47,61.21 L498.76,61.54 L499.05,61.88 L499.32,62.22 L499.59,62.57 L499.84,62.92 L500.09,63.28 L500.33,63.65 L500.56,64.02 L511.26,80.62 L511.47,80.99 L511.68,81.36 L511.88,81.74 L512.06,82.13 L512.24,82.52 L512.41,82.91 L512.57,83.31 L512.72,83.72 L512.86,84.13 L512.99,84.54 L513.11,84.96 L513.22,85.38 L513.32,85.81 L513.41,86.24 L513.49,86.67 L513.56,87.11 L513.63,87.55 L513.68,88.00 L513.72,88.45 L513.75,88.90 L513.77,89.35 L513.78,89.81 L513.78,90.27 L513.77,90.73 L513.76,91.20 L513.73,91.67 L513.69,92.13 L513.64,92.61 L513.58,93.08 L513.51,93.56 L513.44,94.03 L513.35,94.51 L513.25,94.99 L513.14,95.47 L513.02,95.95 L512.90,96.44 L512.76,96.92 L512.61,97.40 L512.46,97.89 L512.29,98.37 L512.11,98.86 L511.93,99.34 L511.74,99.83 L511.53,100.31 L511.32,100.79 L511.10,101.28 L510.86,101.76 L510.62,102.24 L510.37,102.72 L510.12,103.20 L509.85,103.68 L509.57,104.16 L509.29,104.63 L508.99,105.10 L508.69,105.57 L508.38,106.04 L508.06,106.51 L507.74,106.98 L507.40,107.44 L507.06,107.90 L506.71,108.35 L506.35,108.81 L505.98,109.26 L505.61,109.71 L505.22,110.15 L504.83,110.59 L504.44,111.03 L504.03,111.46 L503.62,111.89 L503.21,112.32 L502.78,112.74 L502.35,113.15 L501.91,113.57 L501.47,113.98 L501.02,114.38 L500.56,114.78 L500.10,115.17 L499.63,115.56 L499.16,115.95 L498.68,116.32 L498.20,116.70 L497.71,117.07 L497.21,117.43 L496.71,117.79 L496.21,118.14 L495.70,118.48 L495.18,118.82 L494.67,119.15 L494.14,119.48 L493.62,119.80 L493.09,120.11 L492.55,120.42 L492.02,120.72 L491.48,121.02 L490.93,121.31 L490.39,121.59 L489.84,121.86 L489.28,122.13 L488.73,122.39 L488.17,122.64 L487.61,122.88 L487.05,123.12 L486.49,123.35 L485.92,123.58 L485.36,123.79 L484.79,124.00 L484.22,124.20 L483.65,124.39 L483.08,124.58 L482.51,124.75 L481.94,124.92 L481.36,125.08 L480.79,125.23 L480.22,125.38 L479.65,125.52 L479.08,125.65 L478.51,125.77 L477.94,125.88 L477.37,125.98 L476.80,126.08 L476.23,126.16 L475.67,126.24 L475.10,126.31 L474.54,126.38 L473.98,126.43 L473.42,126.48 L472.87,126.51 L472.31,126.54 L471.76,126.56 L471.22,126.57 L470.67,126.58 L470.13,126.57 L469.59,126.56 L469.06,126.54 L468.53,126.51 L468.00,126.47 L467.48,126.42 L466.96,126.36 L466.44,126.30 L465.93,126.23 L465.43,126.15 L464.93,126.06 L464.43,125.96 L463.94,125.85 L463.45,125.74 L462.97,125.62 L462.50,125.49 L462.03,125.35 L461.56,125.20 L461.11,125.05 L460.65,124.88 L460.21,124.71 L459.77,124.53 L459.34,124.35 L458.91,124.15 L458.49,123.95 L458.08,123.74 L457.67,123.52 L457.27,123.30 L456.88,123.07 L456.50,122.83 L456.12,122.58 L455.75,122.33 L455.39,122.07 L455.04,121.80 L454.69,121.52 L454.36,121.24 L454.03,120.95 L453.71,120.65 L453.39,120.35 L453.09,120.04 L452.79,119.73 L452.51,119.40 L452.23,119.08 L451.96,118.74 L451.70,118.40 L451.44,118.06 L451.20,117.70 L450.97,117.34 L450.74,116.98 Z" class="w" style="stroke-width:1.25"/>
<path d="M465.5,123 V130.5 Q465.5,136.5 473.5,136.5 Q481.5,136.5 481.5,130.5 V123 Z" class="w" />
<path d="M465.5,128 Q473.5,132 481.5,128" class="s" />
<polyline points="453.68,117.87 453.30,117.63 452.92,117.38 452.55,117.13 452.19,116.87 451.84,116.60 451.49,116.32 451.16,116.04 450.83,115.75 450.51,115.45 450.19,115.15 449.89,114.84 449.59,114.53 449.31,114.20 449.03,113.88 448.76,113.54 448.50,113.20 448.24,112.86 448.00,112.50 447.77,112.14 447.54,111.78 447.33,111.41 447.12,111.04 446.92,110.66 446.74,110.27 446.56,109.88 446.39,109.49 446.23,109.09 446.08,108.68 445.94,108.27 445.81,107.86 445.69,107.44 445.58,107.02 445.48,106.59 445.39,106.16 445.31,105.73 445.24,105.29 445.17,104.85 445.12,104.40 445.08,103.95 445.05,103.50 445.03,103.05 445.02,102.59 445.02,102.13 445.03,101.67 445.04,101.20 445.07,100.73 445.11,100.27 445.16,99.79 445.22,99.32 445.29,98.84 445.36,98.37 445.45,97.89 445.55,97.41 445.66,96.93 445.78,96.45 445.90,95.96 446.04,95.48 446.19,95.00 446.34,94.51 446.51,94.03 446.69,93.54 446.87,93.06 447.06,92.57 447.27,92.09 447.48,91.61 447.70,91.12 447.94,90.64 448.18,90.16 448.43,89.68 448.68,89.20 448.95,88.72 449.23,88.24 449.51,87.77 449.81,87.30 450.11,86.83 450.42,86.36 450.74,85.89 451.06,85.42 451.40,84.96 451.74,84.50 452.09,84.05 452.45,83.59 452.82,83.14 453.19,82.69 453.58,82.25 453.97,81.81 454.36,81.37 454.77,80.94 455.18,80.51 455.59,80.08 456.02,79.66 456.45,79.25 456.89,78.83 457.33,78.42 457.78,78.02 458.24,77.62 458.70,77.23 459.17,76.84 459.64,76.45 460.12,76.08 460.60,75.70 461.09,75.33 461.59,74.97 462.09,74.61 462.59,74.26 463.10,73.92 463.62,73.58 464.13,73.25 464.66,72.92 465.18,72.60 465.71,72.29 466.25,71.98 466.78,71.68 467.32,71.38 467.87,71.09 468.41,70.81 468.96,70.54 469.52,70.27 470.07,70.01 470.63,69.76 471.19,69.52 471.75,69.28 472.31,69.05 472.88,68.82 473.44,68.61 474.01,68.40 474.58,68.20 475.15,68.01 475.72,67.82 476.29,67.65 476.86,67.48 477.44,67.32 478.01,67.17 478.58,67.02 479.15,66.88 479.72,66.75 480.29,66.63 480.86,66.52 481.43,66.42 482.00,66.32 482.57,66.24 483.13,66.16 483.70,66.09 484.26,66.02 484.82,65.97 485.38,65.92 485.93,65.89 486.49,65.86 487.04,65.84 487.58,65.83 488.13,65.82 488.67,65.83 489.21,65.84 489.74,65.86 490.27,65.89 490.80,65.93 491.32,65.98 491.84,66.04 492.36,66.10 492.87,66.17 493.37,66.25 493.87,66.34 494.37,66.44 494.86,66.55 495.35,66.66 495.83,66.78 496.30,66.91 496.77,67.05 497.24,67.20 497.69,67.35 498.15,67.52 498.59,67.69 499.03,67.87 499.46,68.05 499.89,68.25 500.31,68.45 500.72,68.66 501.13,68.88 501.53,69.10 501.92,69.33 502.30,69.57 502.68,69.82 503.05,70.07 503.41,70.33 503.76,70.60 504.11,70.88 504.44,71.16 504.77,71.45 505.09,71.75 505.41,72.05 505.71,72.36 506.01,72.67 506.29,73.00 506.57,73.32 506.84,73.66 507.10,74.00 507.36,74.34 507.60,74.70 507.83,75.06 508.06,75.42 508.27,75.79 508.48,76.16 508.68,76.54 508.86,76.93 509.04,77.32 509.21,77.71 509.37,78.11 509.52,78.52 509.66,78.93 509.79,79.34 509.91,79.76 510.02,80.18 510.12,80.61 510.21,81.04 510.29,81.47 510.36,81.91 510.43,82.35 510.48,82.80 510.52,83.25 510.55,83.70 510.57,84.15 510.58,84.61 510.58,85.07 510.57,85.53 510.56,86.00 510.53,86.47 510.49,86.93 510.44,87.41 510.38,87.88" class="s"/>
<ellipse cx="481.00" cy="98.80" rx="35.3" ry="24.5" transform="rotate(-31 481.00 98.80)" class="w" style="stroke-width:1.15"/>
<ellipse cx="481.00" cy="98.80" rx="31.3" ry="21.8" transform="rotate(-31 481.00 98.80)" class="s" />
<ellipse cx="481.00" cy="98.80" rx="27.6" ry="19.3" transform="rotate(-31 481.00 98.80)" class="s" style="stroke-width:1.2"/>
<line x1="469.21" y1="114.44" x2="466.72" y2="117.74" class="s" style="stroke-width:1.3"/>
<line x1="465.47" y1="114.64" x2="463.79" y2="116.36" class="s" style="stroke-width:1.0"/>
<line x1="463.26" y1="112.96" x2="461.33" y2="114.50" class="s" style="stroke-width:1.0"/>
<line x1="461.54" y1="110.88" x2="459.43" y2="112.19" class="s" style="stroke-width:1.0"/>
<line x1="460.37" y1="108.47" x2="458.13" y2="109.51" class="s" style="stroke-width:1.0"/>
<line x1="461.57" y1="105.19" x2="457.47" y2="106.53" class="s" style="stroke-width:1.3"/>
<line x1="459.78" y1="102.89" x2="457.47" y2="103.34" class="s" style="stroke-width:1.0"/>
<line x1="460.37" y1="99.90" x2="458.13" y2="100.01" class="s" style="stroke-width:1.0"/>
<line x1="461.54" y1="96.87" x2="459.43" y2="96.66" class="s" style="stroke-width:1.0"/>
<line x1="463.26" y1="93.89" x2="461.34" y2="93.36" class="s" style="stroke-width:1.0"/>
<line x1="466.79" y1="91.71" x2="463.79" y2="90.22" class="s" style="stroke-width:1.3"/>
<line x1="468.13" y1="88.43" x2="466.73" y2="87.31" class="s" style="stroke-width:1.0"/>
<line x1="471.14" y1="86.10" x2="470.07" y2="84.73" class="s" style="stroke-width:1.0"/>
<line x1="474.42" y1="84.13" x2="473.71" y2="82.54" class="s" style="stroke-width:1.0"/>
<line x1="477.89" y1="82.57" x2="477.56" y2="80.81" class="s" style="stroke-width:1.0"/>
<line x1="481.41" y1="82.92" x2="481.50" y2="79.58" class="s" style="stroke-width:1.3"/>
<line x1="484.99" y1="80.83" x2="485.43" y2="78.89" class="s" style="stroke-width:1.0"/>
<line x1="488.43" y1="80.71" x2="489.23" y2="78.75" class="s" style="stroke-width:1.0"/>
<line x1="491.65" y1="81.10" x2="492.81" y2="79.18" class="s" style="stroke-width:1.0"/>
<line x1="494.58" y1="81.98" x2="496.05" y2="80.16" class="s" style="stroke-width:1.0"/>
<line x1="495.77" y1="84.64" x2="498.87" y2="81.66" class="s" style="stroke-width:1.3"/>
<line x1="499.22" y1="85.12" x2="501.20" y2="83.64" class="s" style="stroke-width:1.0"/>
<line x1="500.80" y1="87.29" x2="502.95" y2="86.04" class="s" style="stroke-width:1.0"/>
<line x1="501.83" y1="89.78" x2="504.09" y2="88.81" class="s" style="stroke-width:1.0"/>
<line x1="502.28" y1="92.53" x2="504.59" y2="91.85" class="s" style="stroke-width:1.0"/>
<line x1="500.35" y1="95.73" x2="504.42" y2="95.08" class="s" style="stroke-width:1.3"/>
<line x1="482.00" y1="99.60" x2="467.20" y2="117.60" class="s" style="stroke-width:1.4"/>
<path d="M480.8,98.0 L490.6,88.8 L492.2,90.2 L483.8,100.39999999999999 Z" class="w" />
<ellipse cx="482.00" cy="99.60" rx="2.80" ry="2.20" class="w" />
<path d="M475,112.5 L478.5,107.8 L489,106.8 M478.5,107.8 L476.5,113.5 M489,106.8 L488.5,111.5" class="s" style="stroke-width:0.9"/>
<ellipse cx="476.20" cy="114.50" rx="2.10" ry="1.80" class="s" />
<ellipse cx="488.40" cy="112.60" rx="2.10" ry="1.80" class="s" />
<line x1="469.00" y1="116.00" x2="474.00" y2="112.50" class="s" style="stroke-width:1.2"/>
<path d="M408.5,163 V170 Q417.5,174.5 426.5,170 V163 Z" class="w" />
<path d="M403,149 V161.5 Q417,167 431.5,161.5 V149 Z" class="w" />
<ellipse cx="418.50" cy="158.20" rx="3.80" ry="2.80" class="s" />
<ellipse cx="418.50" cy="158.20" rx="2.80" ry="1.80" class="s" />
<path d="M405,153 Q404.5,157 406,159.5 Q407,156 405,153 Z" class="s" />
<path d="M429.5,153 Q430.5,157 428.5,159.5 Q428,156 429.5,153 Z" class="s" />
<path d="M400.5,129 L405,126.5 L422,125.5 L433.5,128.5 V150 L422,153.5 L405,152 L400.5,149 Z" class="w" />
<path d="M405,137 L422,137 L433.5,131 M405,137 V152 M422,137 V153.5 M400.5,129 L405,137" class="s" />
<path d="M403,93 V127.5 Q417,131.5 430.5,127.5 V93 Z" class="w" />
<path d="M403,102.5 Q416.75,108.5 430.5,102.5" class="s" />
<ellipse cx="416.75" cy="93.00" rx="13.75" ry="5.20" class="w" />
<path d="M406.5,92 V88.8 Q416.5,84 426.5,88.8 V92" class="w" />
<path d="M406.5,92 Q416.5,96.5 426.5,92" class="s" />
<ellipse cx="416.50" cy="88.80" rx="10.00" ry="4.20" class="w" />
<ellipse cx="416.50" cy="89.20" rx="7.60" ry="2.80" class="s" />
<path d="M433.6,167 L434.2,219.5 L450,244.5 L449.5,192 Z" class="w" style="stroke-width:1.1"/>
<line x1="438.6" y1="176" x2="439.8" y2="224.5" class="s" style="stroke-width:1.6"/>
<line x1="441.5" y1="179" x2="442.5" y2="229" class="s" style="stroke-width:0.9"/>
<line x1="445.4" y1="184" x2="446.2" y2="234" class="s" style="stroke-width:1.6"/>
<line x1="447.8" y1="188" x2="448.4" y2="238" class="s" style="stroke-width:0.9"/>
<path d="M433.6,169 Q433.4,165.6 437,164.8 L486.5,150.2 Q489.8,149.2 492,152.2 L513.6,181 L455,196.6 Q451.5,197.5 449.6,194.6 Z" class="w" style="stroke-width:1.2"/>
<line x1="439.08" y1="172.38" x2="494.72" y2="155.88" class="s" style="stroke-width:1.7"/>
<line x1="441.69" y1="177.01" x2="498.26" y2="160.59" class="s" style="stroke-width:1.7"/>
<line x1="445.34" y1="183.50" x2="503.22" y2="167.18" class="s" style="stroke-width:1.7"/>
<line x1="448.48" y1="189.07" x2="507.46" y2="172.84" class="s" style="stroke-width:1.0"/>
<ellipse cx="473.50" cy="173.30" rx="6.80" ry="4.60" class="w" />
<path d="M449.3,192.5 Q450.5,190 454,191.5 L454.3,246.5 Q450.5,247 449.9,244 Z" class="w" style="stroke-width:1.1"/>
<path d="M454.3,199 Q454.3,195 458.5,194.3 L510,181.3 Q513.6,180.8 513.6,184.5 V236 L459.5,247.2 Q454.3,248 454.3,244 Z" class="w" style="stroke-width:1.2"/>
<path d="M459,246.5 V203 Q459,199 463,198.3 L513.2,185.8" class="s" />
<ellipse cx="507.30" cy="191.10" rx="3.00" ry="2.70" class="w" />
<line x1="505.50" y1="192.50" x2="509.10" y2="189.70" class="s" style="stroke-width:0.7"/>
<ellipse cx="464.20" cy="239.80" rx="3.00" ry="2.70" class="w" />
<line x1="462.40" y1="241.20" x2="466.00" y2="238.40" class="s" style="stroke-width:0.7"/>
<path d="M465.7,220.4 Q465.5,210 471.9,204.6 Q478,198.5 485.4,197.9 Q492,197.2 496.6,199 Q502,201.5 505.6,205.75 Q509.5,210 512.4,213.6 L528.35,237.45 A21.8 17.1 -32 0 1 491.35,260.55 L466.25,227.1 Q465.6,224 465.7,220.4 Z" class="w" style="stroke-width:1.1"/>
<line x1="512.40" y1="213.60" x2="528.35" y2="237.45" class="s" style="stroke-width:1.9"/>
<ellipse cx="509.85" cy="249.0" rx="21.8" ry="17.1" transform="rotate(-32 509.85 249.0)" class="w" style="stroke-width:1.1"/>
<ellipse cx="510.45000000000005" cy="249.8" rx="18.2" ry="14.0" transform="rotate(-32 510.45000000000005 249.8)" class="s"/>
<path d="M475.5,225.5 L478.8,223.5 L496.5,247 L493,249 Z" class="s" />
<path d="M491.8,212.5 L495.5,210.5 L510.5,233 L507,235 Z" class="s" />
<rect x="489.28" y="253.03" width="3.6" height="2.8" class="w" transform="rotate(258.0 491.08 254.43)" style="stroke-width:0.9"/>
<rect x="493.39" y="240.09" width="3.6" height="2.8" class="w" transform="rotate(303.0 495.19 241.49)" style="stroke-width:0.9"/>
<rect x="506.08" y="231.54" width="3.6" height="2.8" class="w" transform="rotate(348.0 507.88 232.94)" style="stroke-width:0.9"/>
<rect x="519.93" y="232.40" width="3.6" height="2.8" class="w" transform="rotate(393.0 521.73 233.80)" style="stroke-width:0.9"/>
<rect x="526.82" y="242.17" width="3.6" height="2.8" class="w" transform="rotate(78.0 528.62 243.57)" style="stroke-width:0.9"/>
<rect x="522.71" y="255.11" width="3.6" height="2.8" class="w" transform="rotate(123.0 524.51 256.51)" style="stroke-width:0.9"/>
<rect x="510.02" y="263.66" width="3.6" height="2.8" class="w" transform="rotate(168.0 511.82 265.06)" style="stroke-width:0.9"/>
<rect x="496.17" y="262.80" width="3.6" height="2.8" class="w" transform="rotate(213.0 497.97 264.20)" style="stroke-width:0.9"/>
<path d="M413.1,204 V218 Q419.5,222.5 429.25,218 V204 Z" class="w" />
<path d="M409.4,185 V200 Q420.25,208.5 431.5,200 V185 Z" class="w" />
<ellipse cx="420.25" cy="185.00" rx="11.06" ry="4.70" class="w" style="stroke-width:1.1"/>
<ellipse cx="420.25" cy="185.60" rx="8.50" ry="3.40" class="s" />
<path d="M419.5,205.6 L430,201.5 L445,198.5 L449.5,215 L421,221.75 Z" class="w" />
<path d="M436.75,201.5 V217.5 M419.5,210.5 H428.5 V213" class="s" />
<path d="M465,300 V306.5 Q474,311.5 483,306.5 V300 Z" class="w" />
<path d="M459,291 L461,289 H486.5 L489,291 V298.5 L483,302.5 H465 L459,298.5 Z" class="w" />
<path d="M459,293.5 L465,297 H483 L489,293.5 M465,297 V302.5 M483,297 V302.5" class="s" />
<path d="M461.5,277 V291 Q474,295 486.5,291 V277 Z" class="w" />
<path d="M459,267 L465,263.5 H483 L489,267 V276.5 L483,280 H465 L459,276.5 Z" class="w" />
<path d="M459,272 L465,275.5 H483 L489,272 M465,275.5 V280 M483,275.5 V280" class="s" />
<path d="M465.5,261 V270 Q473.5,274 481.5,270 V261 Z" class="w" />
<ellipse cx="473.50" cy="261.00" rx="8.00" ry="4.50" class="w" />
<ellipse cx="473.50" cy="261.00" rx="3.50" ry="2.00" class="s" />
<path d="M589.5,171.5 L608,168.5 L616,173.5 L619,177 L621,183 L628.5,192 L629,198 L610,204.5 L605,198 L590,179 Z" class="w" />
<path d="M593,177.5 L616,173.5 M605,186.5 L621,183 M605.5,193.5 L628.5,192 M605,186.5 L605.5,193.5 L610,204.5" class="s" />
<path d="M590,179 Q598,182 600,196" class="s" />
<path d="M556.5,170.2 L569.5,166.5 L595.5,189.8 L597,196 L585,207 L574.5,209.3 L557.2,188.3 Z" class="w" style="stroke-width:1.1"/>
<path d="M557.2,180 L583.5,198 L585,207 M569.5,166.5 L556.5,170.2 M583.5,198 L595.5,189.8" class="s" />
<ellipse cx="585.0" cy="204.5" rx="11.8" ry="10.15" transform="rotate(-45 585.0 204.5)" class="w"/>
<ellipse cx="589.0" cy="208.0" rx="10.8" ry="9.29" transform="rotate(-45 589.0 208.0)" class="w"/>
<ellipse cx="592.5" cy="211.5" rx="8.6" ry="7.40" transform="rotate(-45 592.5 211.5)" class="w"/>
<ellipse cx="595.5" cy="214.5" rx="9.0" ry="7.74" transform="rotate(-45 595.5 214.5)" class="w"/>
<ellipse cx="598.5" cy="217.5" rx="7.2" ry="6.19" transform="rotate(-45 598.5 217.5)" class="w"/>
<ellipse cx="601.3" cy="220.2" rx="7.8" ry="6.71" transform="rotate(-45 601.3 220.2)" class="w"/>
<ellipse cx="604.0" cy="222.8" rx="6.2" ry="5.33" transform="rotate(-45 604.0 222.8)" class="w"/>
<ellipse cx="606.4" cy="225.0" rx="6.3" ry="5.42" transform="rotate(-45 606.4 225.0)" class="w"/>
<ellipse cx="606.90" cy="225.50" rx="3.00" ry="2.50" class="s" />
<ellipse cx="549" cy="156.4" rx="8.2" ry="7.9" class="w"/>
<path d="M544,160 Q545,152 552,151 M546.5,162.5 Q547,154 554,152.5" class="s" style="stroke-width:1.2"/>
<path d="M549,155.5 L564,151.2 Q571,151.5 575,159.7 Q578,164.5 576,168.7 L559.5,170.3 Q553,166 549,155.5 Z" class="w" style="stroke-width:1.05"/>
<path d="M552.5,162.8 L574.8,165.2" class="s" />
<ellipse cx="556.00" cy="175.00" rx="3.40" ry="11.60" class="w" style="stroke-width:1.2"/>
<path d="M537.75,168.75 L552.75,165.75 L553.5,183.75 L537.75,186.75 Z" class="w" />
<ellipse cx="537.75" cy="177.75" rx="3.80" ry="9.00" class="w" style="stroke-width:1.1"/>
<ellipse cx="537.90" cy="177.75" rx="2.40" ry="6.80" class="s" />
<rect x="181.5" y="8" width="73" height="26.5" class="s" style="stroke-width:1.4"/>
<rect x="506.2" y="8" width="65" height="26.3" class="s" style="stroke-width:1.4"/>
<path d="M386.25,6 V360.4 H565.8" class="s" style="stroke-width:1.45;stroke:#333;stroke-linecap:butt"/>
<text x="186.5" y="28.1" font-size="19.0" textLength="63.25" lengthAdjust="spacingAndGlyphs" text-anchor="start" class="t">122481</text>
<text x="510.5" y="28.0" font-size="19.0" textLength="54.0" lengthAdjust="spacingAndGlyphs" text-anchor="start" class="t">17384</text>
<text x="288.5" y="183.1" font-size="12.0" textLength="41.0" lengthAdjust="spacingAndGlyphs" text-anchor="start" class="t">120758</text>
<text x="288.25" y="263.9" font-size="12.0" textLength="38.0" lengthAdjust="spacingAndGlyphs" text-anchor="start" class="t">149617</text>
<text x="243.5" y="287.5" font-size="10.5" textLength="36.0" lengthAdjust="spacingAndGlyphs" text-anchor="start" class="t">158204</text>
<text x="175.0" y="364.4" font-size="12.0" textLength="38.0" lengthAdjust="spacingAndGlyphs" text-anchor="start" class="t">120816</text>
<text x="531.5" y="411.4" font-size="12.0" textLength="41.5" lengthAdjust="spacingAndGlyphs" text-anchor="start" class="t">153775</text>
<text x="174.5" y="475.4" font-size="12.0" textLength="41.0" lengthAdjust="spacingAndGlyphs" text-anchor="start" class="t">120808</text>
<text x="531.0" y="482.4" font-size="12.0" textLength="40.25" lengthAdjust="spacingAndGlyphs" text-anchor="start" class="t">120733</text>
<text x="174.5" y="612.4" font-size="12.0" textLength="38.0" lengthAdjust="spacingAndGlyphs" text-anchor="start" class="t">120717</text>
<text x="564.0" y="633.9" font-size="12.0" textLength="41.0" lengthAdjust="spacingAndGlyphs" text-anchor="start" class="t">120725</text>
<text x="530.5" y="760.3" font-size="12.0" textLength="33.0" lengthAdjust="spacingAndGlyphs" text-anchor="start" class="t">50195</text>
<text x="397.5" y="70.5" font-size="12.0" textLength="36.0" lengthAdjust="spacingAndGlyphs" text-anchor="start" class="t">23085</text>
<text x="547.0" y="94.25" font-size="12.0" textLength="37.0" lengthAdjust="spacingAndGlyphs" text-anchor="start" class="t">62075</text>
<text x="555.0" y="292.4" font-size="12.0" textLength="35.5" lengthAdjust="spacingAndGlyphs" text-anchor="start" class="t">88484</text>
<text x="515.2" y="137.5" font-size="10.6" textLength="73" lengthAdjust="spacingAndGlyphs" text-anchor="start" class="t">1/4" male thread</text>
<line x1="232.50" y1="179.10" x2="285.60" y2="179.10" class="s" />
<line x1="235.40" y1="259.80" x2="286.00" y2="259.80" class="s" />
<line x1="218.50" y1="366.80" x2="237.50" y2="366.80" class="s" />
<line x1="385.50" y1="407.20" x2="527.50" y2="407.20" class="s" />
<line x1="218.00" y1="477.00" x2="281.00" y2="477.00" class="s" />
<line x1="452.50" y1="482.75" x2="527.50" y2="482.75" class="s" />
<line x1="218.00" y1="607.30" x2="281.00" y2="607.30" class="s" />
<line x1="487.00" y1="630.00" x2="562.50" y2="630.00" class="s" />
<line x1="492.50" y1="760.00" x2="528.50" y2="760.00" class="s" />
<line x1="417.20" y1="73.00" x2="417.20" y2="82.00" class="s" />
<line x1="513.00" y1="89.40" x2="545.50" y2="89.40" class="s" />
<line x1="479.00" y1="287.60" x2="550.50" y2="287.60" class="s" />
<line x1="546.00" y1="141.00" x2="546.00" y2="149.00" class="s" />
<line x1="487.50" y1="718.50" x2="487.50" y2="730.50" class="s" />
<line x1="473.50" y1="140.00" x2="473.50" y2="152.50" class="s" />
<line x1="473.50" y1="243.00" x2="473.50" y2="256.00" class="s" />
<line x1="419.00" y1="174.00" x2="419.00" y2="185.00" class="s" />
<path d="M237.7,272.2 H262 V279" class="s" />
<ellipse cx="311.90" cy="176.80" rx="40.60" ry="19.90" class="red" />
<path d="M232.4,284.5 V331.2 L270.5,319.7 L313.5,379.5" class="d" />
<path d="M237.5,376 V382.4 L280,370 L293.5,389.5" class="d" />
<path d="M361.6,361.5 V316 H474.2 V307" class="d" />
<path d="M360,466 V480.4 H446" class="d" />
<path d="M322.9,474.7 V512.2 H485.6" class="d" />
<path d="M514.6,186.4 L533,180" class="d" />
</svg></body></html>
